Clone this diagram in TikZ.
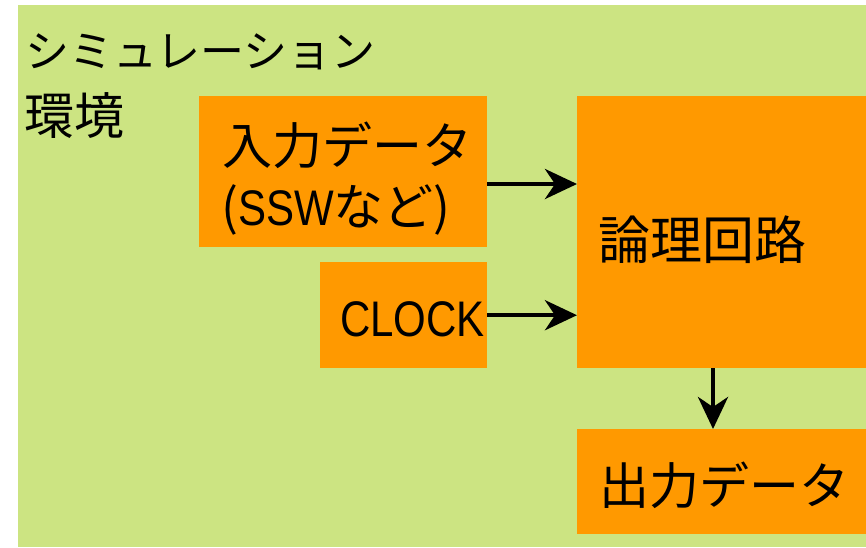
\documentclass[tikz,border=0pt]{standalone}
\usepackage{fontspec}
\setmainfont{Noto Sans CJK JP}
\newfontfamily\narrowlat[FakeStretch=0.84]{Liberation Sans}
\usetikzlibrary{arrows.meta}
\definecolor{bggreen}{RGB}{204,228,130}
\definecolor{boxorange}{RGB}{255,153,0}
\tikzset{
  box/.style={fill=boxorange, draw=none, inner sep=0pt, anchor=north west},
  txt/.style={inner sep=0pt, align=left, font=\fontsize{50}{66}\selectfont},
  arr/.style={line width=4.5pt, -{Stealth[length=32pt, width=30pt, inset=10pt]}}
}
\begin{document}
\begin{tikzpicture}[x=1pt,y=-1pt]
\useasboundingbox (0,0) rectangle (866,547);
\fill[bggreen] (18,5) rectangle (866,547);
\node[box, minimum width=288pt, minimum height=151pt] (in) at (199,96) {};
\node[box, minimum width=167pt, minimum height=106pt] (clock) at (320,262) {};
\node[box, minimum width=289pt, minimum height=272pt] (logic) at (577,96) {};
\node[box, minimum width=289pt, minimum height=105pt] (out) at (577,429) {};
\node[txt, anchor=west, font=\fontsize{44}{44}\selectfont] (title1) at (25,52) {シミュレーション};
\node[txt, anchor=west, font=\fontsize{50}{50}\selectfont] (title2) at (24,116) {環境};
\node[txt, anchor=west] (intext1) at (222,145) {入力データ};
\node[txt, anchor=west] (intext2) at (221,210) {({\narrowlat SSW}など)};
\node[txt, anchor=east, font=\fontsize{50}{50}\narrowlat] (clocktext) at (485,319) {CLOCK};
\node[txt, anchor=west, font=\fontsize{52}{52}\selectfont] (logictext) at (598,240) {論理回路};
\node[txt, anchor=west] (outtext) at (599,485) {出力データ};
\coordinate (a1) at (0,184);
\coordinate (a3) at (713,0);
\draw[arr] (in.east |- a1) -- (logic.west |- a1);
\draw[arr] (clock.east) -- (logic.west |- clock.east);
\draw[arr] (logic.south -| a3) -- (out.north -| a3);
\end{tikzpicture}
\end{document}
